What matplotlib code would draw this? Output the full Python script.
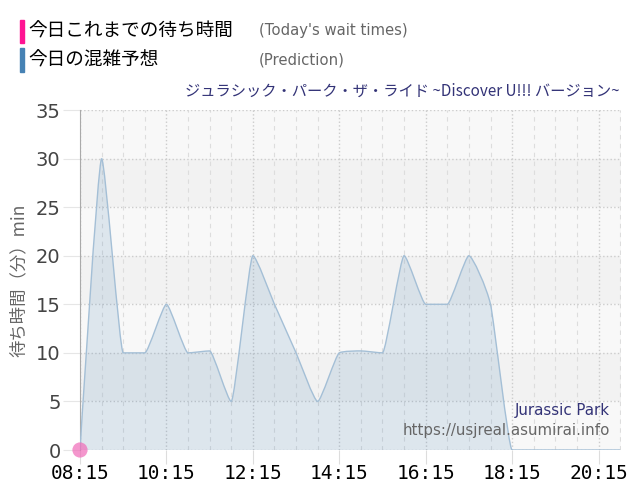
import numpy as np
import matplotlib.pyplot as plt
from matplotlib.path import Path
from matplotlib.patches import PathPatch

plt.rcParams['font.family'] = ['Noto Sans CJK JP', 'DejaVu Sans']

# prediction every 30 min
times = ['08:15', '08:45', '09:15', '09:45', '10:15', '10:45', '11:15', '11:45',
         '12:15', '12:45', '13:15', '13:45', '14:15', '14:45', '15:15', '15:45',
         '16:15', '16:45', '17:15', '17:45', '18:15', '18:45', '19:15', '19:45',
         '20:15', '20:45']
prediction = [0, 30, 10, 10, 15, 10, 10.2, 5,
              20, 15, 10, 5, 10, 10.2, 10, 20,
              15, 15, 20, 15, 0, 0, 0, 0,
              0, 0]

# actual waits so far
actual_times = ['08:15']
actual_waits = [0]

xtick_labels = ['08:15', '10:15', '12:15', '14:15', '16:15', '18:15', '20:15']
yticks = [0, 5, 10, 15, 20, 25, 30, 35]


def to_hours(t):
    h, m = t.split(':')
    return int(h) + int(m) / 60


def spline_path(xs, ys, smoothing=5.0):
    # highcharts-like spline through the points
    n = len(xs)
    denom = smoothing + 1
    lc = [(x, y) for x, y in zip(xs, ys)]
    rc = [(x, y) for x, y in zip(xs, ys)]
    for i in range(1, n - 1):
        px, py = xs[i], ys[i]
        lx, ly = xs[i - 1], ys[i - 1]
        nx, ny = xs[i + 1], ys[i + 1]
        lcx = (smoothing * px + lx) / denom
        lcy = (smoothing * py + ly) / denom
        rcx = (smoothing * px + nx) / denom
        rcy = (smoothing * py + ny) / denom
        corr = (rcy - lcy) * (rcx - px) / (rcx - lcx) + py - rcy
        lcy += corr
        rcy += corr
        if lcy > ly and lcy > py:
            lcy = max(ly, py); rcy = 2 * py - lcy
        elif lcy < ly and lcy < py:
            lcy = min(ly, py); rcy = 2 * py - lcy
        if rcy > ny and rcy > py:
            rcy = max(ny, py); lcy = 2 * py - rcy
        elif rcy < ny and rcy < py:
            rcy = min(ny, py); lcy = 2 * py - rcy
        lc[i] = (lcx, lcy)
        rc[i] = (rcx, rcy)
    verts = [(xs[0], ys[0])]
    codes = [Path.MOVETO]
    for i in range(1, n):
        verts += [rc[i - 1], lc[i], (xs[i], ys[i])]
        codes += [Path.CURVE4] * 3
    return verts, codes


x = [to_hours(t) for t in times]
xa = [to_hours(t) for t in actual_times]

fig = plt.figure(figsize=(6.4, 5), dpi=100)
ax = fig.add_axes([80 / 640, 50 / 500, 541 / 640, 340 / 500])

# alternating bands
for i, y0 in enumerate(range(0, 35, 5)):
    ax.axhspan(y0, y0 + 5, color='#f8f8f8' if i % 2 == 0 else '#f2f2f2', zorder=0, lw=0)

verts, codes = spline_path(x, prediction)
line_path = Path(verts, codes)
fill_path = Path(verts + [(x[-1], 0), (x[0], 0), (x[0], 0)],
                 codes + [Path.LINETO, Path.LINETO, Path.CLOSEPOLY])
ax.add_patch(PathPatch(fill_path, facecolor='#4682b4', alpha=0.15, lw=0, zorder=2))
ax.add_patch(PathPatch(line_path, facecolor='none', edgecolor='#a4bfd6', lw=1.0, zorder=3))

ax.scatter(xa, actual_waits, s=120, color='#f06ab8', alpha=0.7, zorder=5,
           clip_on=False, edgecolors='none')

ax.set_xlim(x[0], x[-1] + 0.02)
ax.set_ylim(0, 35)

ax.set_xticks([to_hours(t) for t in xtick_labels])
ax.set_xticklabels(xtick_labels, family='DejaVu Sans Mono', fontsize=14, color='black')
ax.set_xticks(np.arange(x[0], x[-1] + 0.01, 0.5), minor=True)
ax.set_yticks(yticks)
ax.set_yticklabels([str(v) for v in yticks], fontsize=14, color='#444444',
                   family='DejaVu Sans')

ax.grid(axis='x', which='major', color='#cccccc', ls=':', lw=1, zorder=1)
ax.grid(axis='x', which='minor', color='#dddddd', ls=(0, (4, 4)), lw=0.8, zorder=1)
ax.grid(axis='y', which='major', color='#cccccc', ls=':', lw=1, zorder=1)
ax.tick_params(axis='x', which='major', length=10, color='#dddddd', pad=0)
ax.tick_params(axis='x', which='minor', length=0)
ax.tick_params(axis='y', length=12, color='#e6e6e6', pad=2)

for s in ['top', 'right', 'bottom']:
    ax.spines[s].set_visible(False)
ax.spines['left'].set_color('#aaaaaa')
ax.set_axisbelow(True)

ax.set_ylabel('待ち時間（分）min', fontsize=12.5, color='#666666', labelpad=6)

# legend-like header
fig.patches.append(plt.Rectangle((20 / 640, 1 - 43 / 500), 4 / 640, 23 / 500,
                                 transform=fig.transFigure, color='#ff1493'))
fig.patches.append(plt.Rectangle((20 / 640, 1 - 72 / 500), 4 / 640, 24 / 500,
                                 transform=fig.transFigure, color='#4682b4'))
fig.text(28 / 640, 1 - 32 / 500, '今日これまでの待ち時間', fontsize=13.4, va='center')
fig.text(28 / 640, 1 - 61 / 500, '今日の混雑予想', fontsize=13.4, va='center')
fig.text(259 / 640, 1 - 31 / 500, "(Today's wait times)", fontsize=10.7,
         color='#666666', va='center', family='DejaVu Sans')
fig.text(259 / 640, 1 - 60 / 500, '(Prediction)', fontsize=10.7,
         color='#666666', va='center', family='DejaVu Sans')

fig.text(620 / 640, 1 - 91 / 500, 'ジュラシック・パーク・ザ・ライド ~Discover U!!! バージョン~',
         fontsize=11, color='#333377', ha='right', va='center')
fig.text(610 / 640, 1 - 411 / 500, 'Jurassic Park', fontsize=10.8, color='#333377',
         ha='right', va='center', family='DejaVu Sans')
fig.text(610 / 640, 1 - 431 / 500, 'https://usjreal.asumirai.info', fontsize=10.8,
         color='#666666', ha='right', va='center', family='DejaVu Sans')

fig.savefig('out.png', dpi=100)
